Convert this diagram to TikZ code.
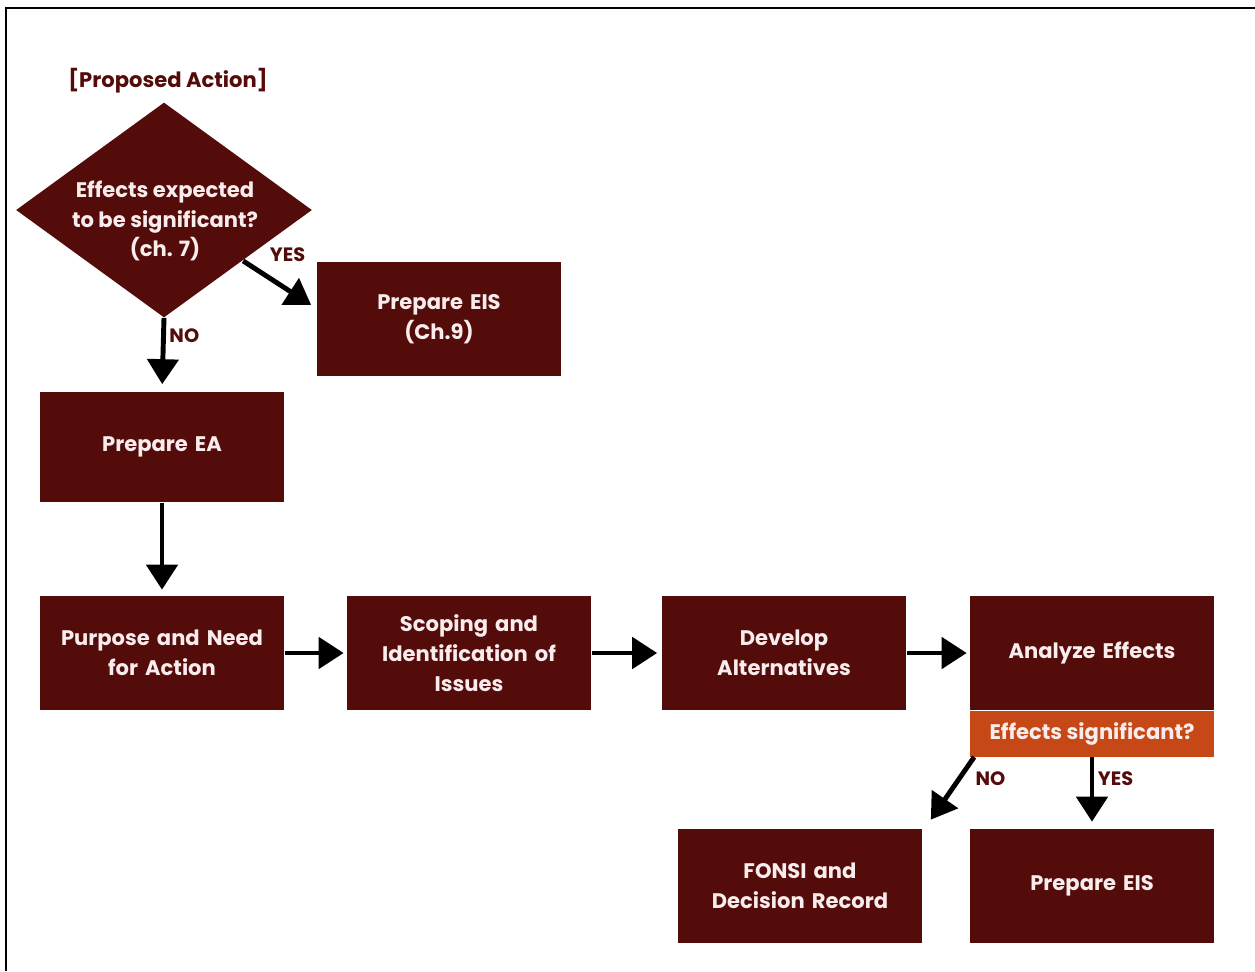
\documentclass[tikz,border=0pt]{standalone}
\usepackage{fontspec}
\setmainfont{Poppins}
\usepackage{tikz}
\usetikzlibrary{positioning, arrows.meta, shapes.geometric}

\definecolor{maroon}{RGB}{84,12,10}
\definecolor{rust}{RGB}{198,72,22}
\definecolor{boxtext}{RGB}{248,236,236}

\begin{document}
\begin{tikzpicture}[x=0.02cm, y=-0.02cm,
  process/.style={rectangle, fill=maroon, text=boxtext, text width=4.6cm, align=center, minimum width=4.9cm, minimum height=2.28cm, inner sep=0pt, font=\bfseries\fontsize{12}{17}\selectfont},
  decision/.style={diamond, fill=maroon, aspect=1.38, inner sep=0pt, minimum width=5.92cm, minimum height=4.3cm},
  decisiontext/.style={text=boxtext, align=center, inner sep=0pt, font=\bfseries\fontsize{12}{17}\selectfont},
  flag/.style={rectangle, fill=rust, text=boxtext, minimum width=4.9cm, minimum height=0.92cm, inner sep=0pt, font=\bfseries\fontsize{12}{17}\selectfont},
  answer/.style={text=maroon, inner sep=2pt, font=\bfseries\fontsize{11}{13}\selectfont},
  arrow/.style={line width=2.8pt, -{Triangle[width=0.62cm,length=0.5cm]}}]

  \useasboundingbox (0,0) rectangle (1255,971);
  \draw [line width=1.2pt] (6,971) |- (1255,8);

  \node (proposed) [answer, font=\bfseries\fontsize{12}{15}\selectfont] at (168,81) {[Proposed Action]};
  \node (expected) [decision] at (164,210) {};
  \node (expectedtext) [decisiontext] at (165,221) {Effects expected\\to be significant?\\(ch. 7)};
  \node (eis) [process] at (439,319) {Prepare EIS\\(Ch.9)};
  \node (ea) [process, minimum height=2.22cm] at (162,447) {Prepare EA};
  \node (purpose) [process] at (162,653) {Purpose and Need\\for Action};
  \node (scoping) [process] at (469,653) {Scoping and\\Identification of\\Issues};
  \node (develop) [process] at (784,653) {Develop\\Alternatives};
  \node (analyze) [process] at (1092,653) {Analyze Effects};
  \node (significant) [flag, below=0pt of analyze] {Effects significant?};
  \node (fonsi) [process] at (800,886) {FONSI and\\Decision Record};
  \node (eisfull) [process] at (1092,886) {Prepare EIS};

  \draw [arrow] ([xshift=0.1cm, yshift=0.06cm]expected.south east) -- node[answer, pos=0.15, anchor=south west, xshift=6pt] {YES} ([xshift=-0.1cm, yshift=0.28cm]eis.west);
  \draw [arrow, shorten >=0.14cm] (expected.south) -- node[answer, pos=0.25, right] {NO} (ea.north);
  \draw [arrow, shorten >=0.12cm] (ea.south) -- (purpose.north);
  \draw [arrow, shorten >=0.05cm] (purpose) -- (scoping);
  \draw [arrow, shorten >=0.08cm] (scoping) -- (develop);
  \draw [arrow, shorten >=0.05cm] (develop) -- (analyze);
  \draw [arrow] ([xshift=0.1cm]significant.south west) -- node[answer, pos=0.35, anchor=west, xshift=6pt] {NO} ([xshift=0.16cm, yshift=0.18cm]fonsi.north east);
  \draw [arrow, shorten >=0.14cm] (significant.south) -- node[answer, pos=0.3, right] {YES} (eisfull.north);
\end{tikzpicture}
\end{document}
